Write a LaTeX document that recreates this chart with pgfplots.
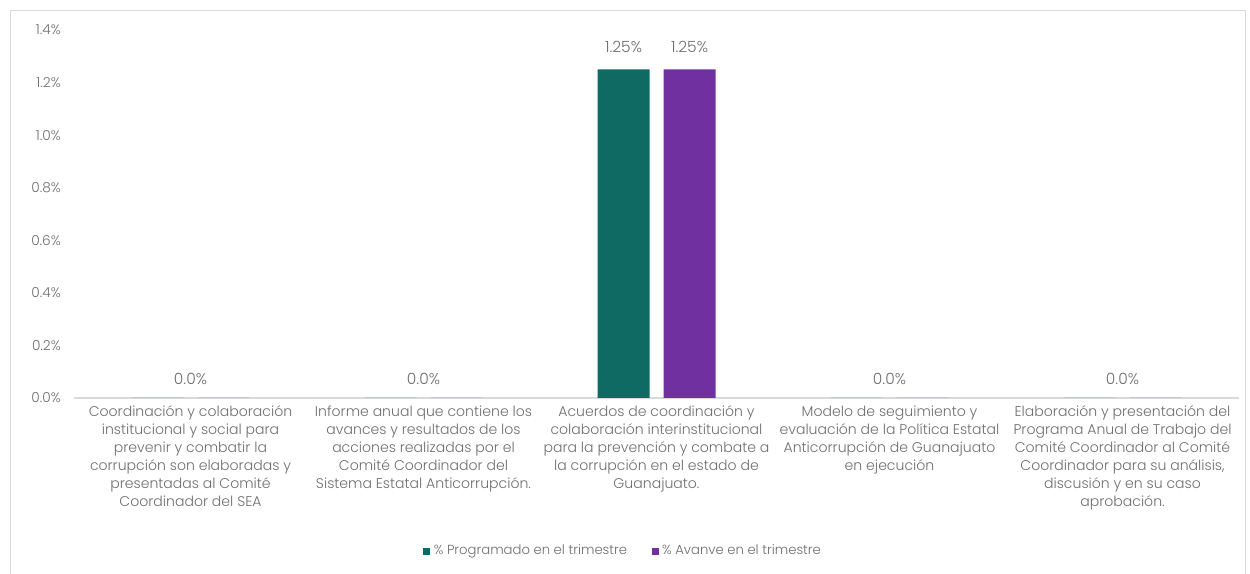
\documentclass[border=0pt]{standalone}
\usepackage{fontspec}
\setmainfont{Poppins}[UprightFont=* Light]
\usepackage{pgfplots}
\pgfplotsset{compat=1.18}
\definecolor{tealbar}{RGB}{14,106,98}
\definecolor{purplebar}{RGB}{112,48,160}
\definecolor{txtgray}{RGB}{110,110,110}
\definecolor{framegray}{RGB}{217,217,217}

\begin{document}
\begin{tikzpicture}
\path[use as bounding box] (0,0) rectangle (25cm,11.46cm);
\draw[framegray] (0.2cm,-0.1cm) -- (0.2cm,11.26cm) -- (24.9cm,11.26cm) -- (24.9cm,-0.1cm);
\begin{axis}[
  at={(1.48cm,3.5cm)}, anchor=south west,
  scale only axis, width=23.3cm, height=7.36cm,
  xmin=-0.5, xmax=4.5, ymin=0, ymax=1.4,
  axis line style={draw=none},
  major tick length=0pt,
  ytick={0,0.2,0.4,0.6,0.8,1.0,1.2,1.4},
  yticklabel={\pgfmathprintnumber[fixed,fixed zerofill,precision=1]{\tick}\%},
  /pgf/number format/assume math mode=true,
  yticklabel style={font=\fontsize{7.8}{9}\selectfont, text=txtgray, xshift=-4pt},
  extra y ticks={0}, extra y tick labels={},
  extra y tick style={grid=major, major grid style={framegray, line width=0.8pt}},
  xtick={0,1,2,3,4},
  xticklabels={
    {Coordinación y colaboración\\institucional y social para\\prevenir y combatir la\\corrupción son elaboradas y\\presentadas al Comité\\Coordinador del SEA},
    {Informe anual que contiene los\\avances y resultados de los\\acciones realizadas por el\\Comité Coordinador del\\Sistema Estatal Anticorrupción.},
    {Acuerdos de coordinación y\\colaboración interinstitucional\\para la prevención y combate a\\la corrupción en el estado de\\Guanajuato.},
    {Modelo de seguimiento y\\evaluación de la Política Estatal\\Anticorrupción de Guanajuato\\en ejecución},
    {Elaboración y presentación del\\Programa Anual de Trabajo del\\Comité Coordinador al Comité\\Coordinador para su análisis,\\discusión y en su caso\\aprobación.}
  },
  xticklabel style={align=center, font=\fontsize{8}{10.2}\selectfont, text=txtgray, anchor=north, yshift=-1pt},
  legend style={at={(0.472,-0.416)}, anchor=center, draw=none, legend columns=2,
    font=\fontsize{7.5}{9}\selectfont, text=txtgray,
    /tikz/every even column/.append style={column sep=0.42cm}},
  legend image code/.code={\fill[#1] (0cm,-0.07cm) rectangle (0.14cm,0.07cm);},
]
\addplot[ybar, bar width=1.04cm, bar shift=-0.66cm, fill=tealbar, draw=none,
  point meta=explicit symbolic, nodes near coords,
  nodes near coords style={font=\fontsize{8.8}{9}\selectfont, text=txtgray, anchor=south, xshift=-0.66cm, yshift=6pt}]
  coordinates {(0,0) [] (1,0) [] (2,1.25) [1.25\%] (3,0) [] (4,0) []};
\addlegendentry{\% Programado en el trimestre}
\addplot[ybar, bar width=1.04cm, bar shift=0.66cm, fill=purplebar, draw=none,
  point meta=explicit symbolic, nodes near coords,
  nodes near coords style={font=\fontsize{8.8}{9}\selectfont, text=txtgray, anchor=south, xshift=0.66cm, yshift=6pt}]
  coordinates {(0,0) [] (1,0) [] (2,1.25) [1.25\%] (3,0) [] (4,0) []};
\addlegendentry{\% Avanve en el trimestre}
\addplot[draw=none, mark=none, forget plot, point meta=explicit symbolic,
  nodes near coords, nodes near coords style={font=\fontsize{8.8}{9}\selectfont, text=txtgray, anchor=south, yshift=4pt}]
  coordinates {(0,0) [0.0\%] (1,0) [0.0\%] (3,0) [0.0\%] (4,0) [0.0\%]};
\end{axis}
\end{tikzpicture}
\end{document}
